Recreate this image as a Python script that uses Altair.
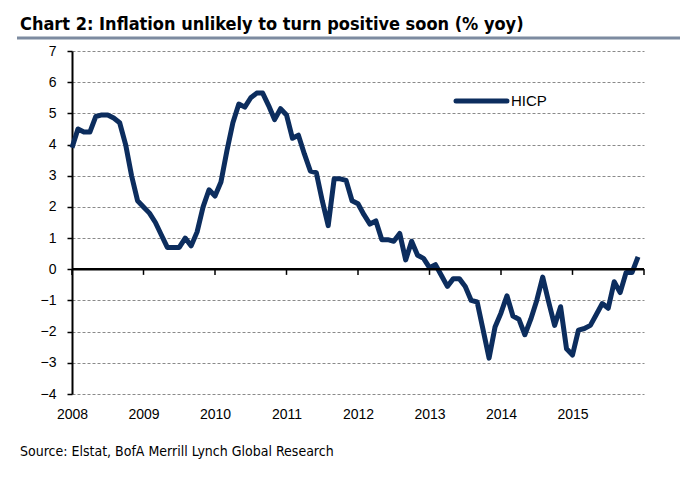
import altair as alt
import pandas as pd

# Monthly HICP % yoy, Jan 2008 .. Dec 2015
hicp = [
    3.9, 4.5, 4.4, 4.4, 4.9, 4.95, 4.95, 4.85, 4.7, 4.0, 3.0, 2.2,      # 2008
    2.0, 1.8, 1.5, 1.1, 0.7, 0.7, 0.7, 1.0, 0.75, 1.2, 2.0, 2.55,      # 2009
    2.35, 2.8, 3.8, 4.7, 5.3, 5.2, 5.5, 5.65, 5.65, 5.25, 4.8, 5.15,   # 2010
    4.95, 4.2, 4.3, 3.7, 3.15, 3.1, 2.2, 1.4, 2.9, 2.9, 2.85, 2.2,     # 2011
    2.1, 1.75, 1.45, 1.55, 0.95, 0.95, 0.9, 1.15, 0.3, 0.9, 0.45, 0.35,  # 2012
    0.05, 0.15, -0.2, -0.55, -0.3, -0.3, -0.55, -1.0, -1.05, -1.95, -2.85, -1.85,  # 2013
    -1.4, -0.85, -1.5, -1.6, -2.1, -1.6, -1.0, -0.25, -1.05, -1.8, -1.2, -2.55,    # 2014
    -2.75, -1.95, -1.9, -1.8, -1.45, -1.1, -1.25, -0.4, -0.75, -0.1, -0.1, 0.4,    # 2015
]
start_year = 2008
years = [2008, 2009, 2010, 2011, 2012, 2013, 2014, 2015]
tick_years = [2008, 2009, 2010, 2011, 2012, 2013, 2014, 2015, 2016]
y_ticks = [-4, -3, -2, -1, 0, 1, 2, 3, 4, 5, 6, 7]

title_text = "Chart 2: Inflation unlikely to turn positive soon (% yoy)"
source_text = "Source: Elstat, BofA Merrill Lynch Global Research"
series_name = "HICP"

NAVY = "#0c2d5e"
FONT = "Liberation Sans"
NARROW = "Liberation Sans Narrow, DejaVu Sans Condensed, Roboto Condensed, sans-serif"

df = pd.DataFrame({
    "t": [start_year + i / 12 for i in range(len(hicp))],
    "v": hicp,
})
ticks_df = pd.DataFrame({"t": tick_years})

W, H = 572, 343

xscale = alt.Scale(domain=[2008, 2016], nice=False, zero=False)
yscale = alt.Scale(domain=[-4, 7], nice=False, zero=False)

yaxis = alt.Axis(
    values=y_ticks, format="d", title=None, grid=True,
    gridDash=[3, 2], gridColor="#8a8a8a", gridWidth=1,
    domain=True, domainColor="#000", domainWidth=2,
    ticks=True, tickColor="#000", tickSize=5, tickWidth=1.5,
    labelFontSize=14, labelFont=FONT, labelColor="#000",
    labelPadding=11, labelOverlap=False, labelFlush=False)
xaxis = alt.Axis(
    values=years, format="d", title=None, grid=False, domain=False,
    ticks=False, labelFontSize=14, labelFont=FONT, labelColor="#000",
    labelPadding=13, labelFlush=False, labelOverlap=False)

line = alt.Chart(df).mark_line(color=NAVY, strokeWidth=5, strokeJoin="round").encode(
    x=alt.X("t:Q", scale=xscale, axis=xaxis),
    y=alt.Y("v:Q", scale=yscale, axis=yaxis),
)

zero = alt.Chart(pd.DataFrame({"y": [0]})).mark_rule(
    color="#000", strokeWidth=2.5).encode(
    y=alt.Y("y:Q", scale=yscale, axis=yaxis),
    x=alt.value(0), x2=alt.value(W))

zticks = alt.Chart(ticks_df).mark_rule(color="#000", strokeWidth=1.5).encode(
    x=alt.X("t:Q", scale=xscale, axis=xaxis),
    y=alt.datum(0, scale=yscale, axis=yaxis), y2=alt.datum(-0.18))

# legend
leg_line = alt.Chart(pd.DataFrame({"s": [series_name]})).mark_rule(
    color=NAVY, strokeWidth=5, strokeCap="round").encode(
    x=alt.value(384), x2=alt.value(435), y=alt.value(50))
leg_text = alt.Chart(pd.DataFrame({"s": [series_name]})).mark_text(
    align="left", baseline="middle", fontSize=15, font=FONT, color="#000").encode(
    text="s:N", x=alt.value(439), y=alt.value(50))

title = alt.Chart(pd.DataFrame({"s": [title_text]})).mark_text(
    align="left", baseline="alphabetic", fontSize=18, fontWeight="bold",
    font=NARROW, color="#000").encode(
    text="s:N", x=alt.value(-52), y=alt.value(-21))
underline = alt.Chart(pd.DataFrame({"s": [title_text]})).mark_rule(
    color="#7d8ba0", strokeWidth=3).encode(
    x=alt.value(-55), x2=alt.value(608), y=alt.value(-13))
source = alt.Chart(pd.DataFrame({"s": [source_text]})).mark_text(
    align="left", baseline="middle", fontSize=14, font=NARROW, color="#000").encode(
    text="s:N", x=alt.value(-52), y=alt.value(401))

chart = alt.layer(
    line, zero, zticks, leg_line, leg_text, title, underline, source
).properties(
    width=W, height=H,
    autosize=alt.AutoSizeParams(type="none"),
    padding={"left": 72, "top": 51, "right": 53, "bottom": 89},
    background="#ffffff",
).configure_view(stroke=None)

chart.save("out.html", embed_options={"renderer": "svg", "actions": False})
